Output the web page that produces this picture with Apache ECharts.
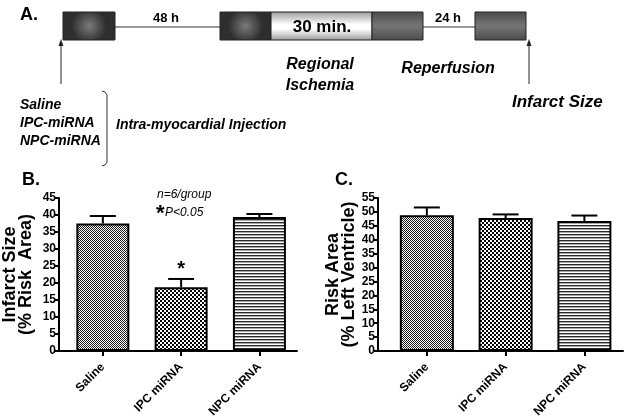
<!DOCTYPE html>
<html><head><meta charset="utf-8">
<script src="https://cdn.jsdelivr.net/npm/echarts@6/dist/echarts.min.js"></script>
<style>html,body{margin:0;padding:0;background:#fff}#c{width:626px;height:420px}</style>
</head><body><div id="c"></div>
<script>
// ---- data ----
const categories = ['Saline', 'IPC miRNA', 'NPC miRNA'];
const infarctMean = [37.5, 18.8, 39.4];
const infarctUpper = [39.7, 21.2, 40.3];
const infarctSig = ['', '*', ''];
const riskMean = [48.8, 47.8, 46.7];
const riskUpper = [51.6, 49.1, 48.7];
const riskSig = ['', '', ''];
const catIndex = [0, 1, 2];

const FONT = "'Liberation Sans', Arial, Helvetica, sans-serif";

function makePattern(w, h, draw) {
  const c = document.createElement('canvas');
  c.width = w; c.height = h;
  const g = c.getContext('2d');
  g.fillStyle = '#fff'; g.fillRect(0, 0, w, h);
  draw(g);
  return c;
}
const patterns = [
  makePattern(2, 2, g => { g.fillStyle = '#1e1e1e'; g.fillRect(0, 0, 1, 1); g.fillRect(1, 1, 1, 1); }),
  makePattern(4, 4, g => { g.fillStyle = '#000'; g.fillRect(0, 0, 2, 2); g.fillRect(2, 2, 2, 2); }),
  makePattern(1, 3, g => { g.fillStyle = '#2a2a2a'; g.fillRect(0, 0, 1, 1); g.fillStyle = '#a8a8a8'; g.fillRect(0, 1, 1, 1); })
];

function barData(vals) {
  return vals.map((v, i) => ({ value: [catIndex[i], v], itemStyle: { color: { image: patterns[i], repeat: 'repeat' } } }));
}
function errData(mean, upper) {
  return mean.map((m, i) => [catIndex[i], m, upper[i]]);
}
function errRender(sigs) {
  return function (params, api) {
    const x = api.value(0), m = api.value(1), u = api.value(2);
    const p0 = api.coord([x, m]), p1 = api.coord([x, u]);
    const hw = 13;
    const ch = [
      { type: 'line', shape: { x1: p0[0], y1: p0[1], x2: p1[0], y2: p1[1] }, style: { stroke: '#000', lineWidth: 2 } },
      { type: 'line', shape: { x1: p1[0] - hw, y1: p1[1], x2: p1[0] + hw, y2: p1[1] }, style: { stroke: '#000', lineWidth: 2 } }
    ];
    const s = sigs[params.dataIndex];
    if (s) ch.push({ type: 'text', x: p1[0], y: p1[1] + 1, style: { text: s, fill: '#000', font: 'bold 20px ' + FONT, textAlign: 'center', textVerticalAlign: 'bottom' } });
    return { type: 'group', children: ch };
  };
}

function xAxisCfg(gi, min, max) {
  return {
    gridIndex: gi, type: 'value', min: min, max: max,
    axisLine: { show: true, onZero: false, lineStyle: { color: '#000', width: 2 } },
    axisTick: { show: true, customValues: catIndex, length: 5, lineStyle: { color: '#000', width: 2 } },
    axisLabel: { customValues: catIndex, rotate: 45, formatter: v => categories[Math.round(v)] || '', fontWeight: 'bold', fontSize: 12, color: '#000', fontFamily: FONT, margin: 14 },
    splitLine: { show: false }
  };
}
function yAxisCfg(gi, max, name, gap) {
  return {
    gridIndex: gi, type: 'value', min: 0, max: max, interval: 5,
    axisLine: { show: true, onZero: false, lineStyle: { color: '#000', width: 2 } },
    axisTick: { show: true, length: 4, lineStyle: { color: '#000', width: 2 } },
    axisLabel: { fontWeight: 'bold', fontSize: 12, color: '#000', fontFamily: FONT, margin: 3 },
    splitLine: { show: false },
    name: name, nameLocation: 'middle', nameGap: gap, nameRotate: 90, nameMoveOverlap: false,
    nameTextStyle: { fontWeight: 'bold', fontSize: 18, lineHeight: 16, color: '#000', fontFamily: FONT, align: 'center' }
  };
}

const T = (text, x, y, font, align, extra) => Object.assign({ type: 'text', x: x, y: y, silent: true,
  style: { text: text, font: font, fill: '#000', textAlign: align || 'left', textVerticalAlign: 'middle' } }, extra || {});
const radial = { type: 'radial', x: 0.5, y: 0.5, r: 0.6, colorStops: [{ offset: 0, color: '#7a7a7a' }, { offset: 1, color: '#2e2e2e' }] };
const greyLin = { type: 'linear', x: 0, y: 0, x2: 0, y2: 1, colorStops: [{ offset: 0, color: '#4a4a4a' }, { offset: 0.5, color: '#767676' }, { offset: 1, color: '#4a4a4a' }] };
const whiteLin = { type: 'linear', x: 0, y: 0, x2: 0, y2: 1, colorStops: [{ offset: 0, color: '#9a9a9a' }, { offset: 0.45, color: '#ffffff' }, { offset: 0.6, color: '#ffffff' }, { offset: 1, color: '#9a9a9a' }] };
const R = (x, y, w, h, fill) => ({ type: 'rect', shape: { x: x, y: y, width: w, height: h }, style: { fill: fill, stroke: '#222', lineWidth: 1 }, silent: true });
const L = (x1, y1, x2, y2, c, w) => ({ type: 'line', shape: { x1, y1, x2, y2 }, style: { stroke: c, lineWidth: w }, silent: true });
const arrow = (x) => [L(x, 84, x, 44, '#222', 1), { type: 'polygon', shape: { points: [[x, 39], [x - 2.5, 46], [x + 2.5, 46]] }, style: { fill: '#222' }, silent: true }];

const BI = s => 'italic bold ' + s + 'px ' + FONT;
const B = s => 'bold ' + s + 'px ' + FONT;

const graphics = [
  T('A.', 20, 15, B(18)),
  L(115, 27, 220, 27, '#777', 1.5), L(423, 27, 475, 27, '#777', 1.5),
  R(63, 12, 52, 28, radial), R(220, 12, 51, 28, radial), R(271, 12, 101, 28, whiteLin),
  R(372, 12, 51, 28, greyLin), R(475, 12, 51, 28, greyLin),
  T('48 h', 166, 18, B(13), 'center'), T('30 min.', 322, 27, B(17), 'center'), T('24 h', 448, 18, B(13), 'center'),
  ...arrow(61), ...arrow(529),
  T('Regional', 320, 65, BI(16), 'center'), T('Ischemia', 320, 86, BI(16), 'center'),
  T('Reperfusion', 448, 69, BI(16), 'center'),
  T('Infarct Size', 512, 102, BI(17)),
  T('Saline', 20, 105, BI(14)), T('IPC-miRNA', 20, 123, BI(14)), T('NPC-miRNA', 20, 141, BI(14)),
  { type: 'polyline', shape: { points: [[102, 91], [105, 92], [107, 95], [107, 162], [105, 165], [102, 166]] }, style: { stroke: '#333', lineWidth: 1, fill: null }, silent: true },
  T('Intra-myocardial Injection', 116, 125, BI(14)),
  T('B.', 22, 180, B(18)),
  T('C.', 335, 180, B(18)),
  T('n=6/group', 157, 195, 'italic 12px ' + FONT),
  T('*', 156, 214, B(22)),
  T('P<0.05', 165, 213, 'italic 12px ' + FONT)
];

const chart = echarts.init(document.getElementById('c'), null, { renderer: 'canvas' });
chart.setOption({
  backgroundColor: '#fff',
  animation: false,
  textStyle: { fontFamily: FONT },
  grid: [
    { left: 59, right: 329, top: 198, bottom: 67 },
    { left: 378, right: 3, top: 198, bottom: 67 }
  ],
  xAxis: [xAxisCfg(0, -0.56, 2.48), xAxisCfg(1, -0.62, 2.49)],
  yAxis: [yAxisCfg(0, 45, 'Infarct Size\n(% Risk  Area)', 25), yAxisCfg(1, 55, 'Risk Area\n(% Left Ventricle)', 21)],
  series: [
    { type: 'bar', xAxisIndex: 0, yAxisIndex: 0, barWidth: 53, data: barData(infarctMean), itemStyle: { borderColor: '#000', borderWidth: 2 }, z: 2 },
    { type: 'custom', xAxisIndex: 0, yAxisIndex: 0, data: errData(infarctMean, infarctUpper), encode: { x: 0, y: [1, 2] }, renderItem: errRender(infarctSig), z: 3 },
    { type: 'bar', xAxisIndex: 1, yAxisIndex: 1, barWidth: 54, data: barData(riskMean), itemStyle: { borderColor: '#000', borderWidth: 2 }, z: 2 },
    { type: 'custom', xAxisIndex: 1, yAxisIndex: 1, data: errData(riskMean, riskUpper), encode: { x: 0, y: [1, 2] }, renderItem: errRender(riskSig), z: 3 }
  ],
  graphic: graphics
});
</script>
</body></html>
